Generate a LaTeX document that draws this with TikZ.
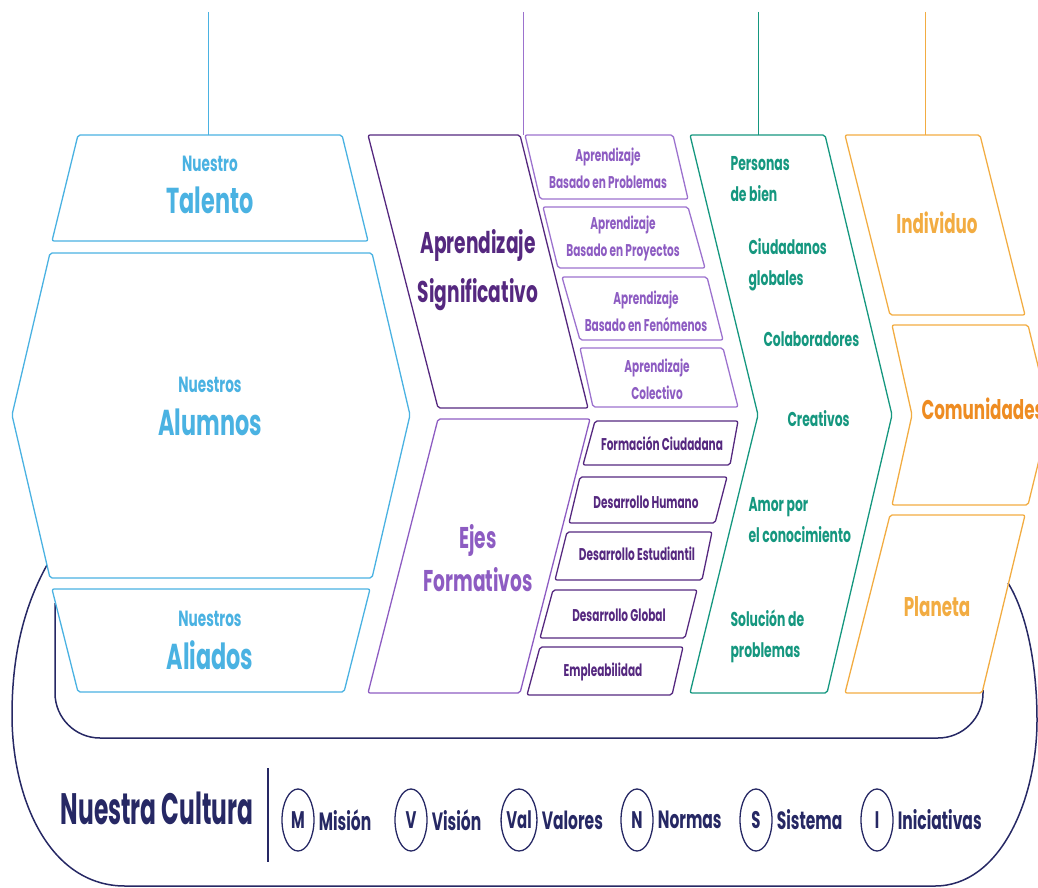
\documentclass[tikz,border=0pt]{standalone}
\usepackage{fontspec}
\usepackage{tikz}
\usetikzlibrary{shapes.geometric, positioning}
\setmainfont{Poppins}
\newfontfamily\narrowfont[FakeStretch=0.62]{Poppins}
\newfontfamily\tightfont[FakeStretch=0.53]{Poppins}
\newcommand{\cfont}[2]{\narrowfont\bfseries\fontsize{#1}{#2}\selectfont}
\definecolor{SkyBlue}{HTML}{4AB2E2}
\definecolor{DarkPurple}{HTML}{55287F}
\definecolor{LightPurple}{HTML}{8D5CC2}
\definecolor{LinePurple}{HTML}{9C72CE}
\definecolor{TealGreen}{HTML}{15977F}
\definecolor{SoftOrange}{HTML}{F2AC42}
\definecolor{DeepOrange}{HTML}{EE8C22}
\definecolor{Navy}{HTML}{262864}

\begin{document}
\begin{tikzpicture}[x=1pt, y=-1pt,
    panel/.style={line width=1.3pt, rounded corners=2pt, line join=round},
    stem/.style={line width=0.9pt},
    navyline/.style={draw=Navy, line width=1.5pt},
    bluesmall/.style={font=\cfont{22}{24}, text=SkyBlue},
    bluebig/.style={font=\cfont{36}{38}, text=SkyBlue},
    bigtitle/.style={font=\cfont{30}{49}, align=center},
    subtext/.style={font=\cfont{17}{27}, align=center},
    tealtext/.style={font=\cfont{20}{31}, text=TealGreen, align=left, anchor=west},
    orangetext/.style={font=\cfont{27}{29}},
    pill/.style={ellipse, draw=Navy, line width=1.3pt, minimum width=32pt,
                 minimum height=62pt, inner sep=0pt, text=Navy, font=\cfont{24}{26}},
    cultlabel/.style={font=\cfont{25}{27}, text=Navy, inner sep=1pt}
]
    \useasboundingbox (0,0) rectangle (1038,888);

    % Stems on top
    \coordinate (stem-blue) at (208,12);
    \coordinate (talento-top) at (208,135);
    \coordinate (stem-purple) at (523,12);
    \coordinate (aprendizaje-top) at (523,135);
    \coordinate (stem-teal) at (758,12);
    \coordinate (perfil-top) at (758,135);
    \coordinate (stem-orange) at (925,12);
    \coordinate (individuo-top) at (925,135);
    \draw[stem, SkyBlue] (stem-blue) -- (talento-top);
    \draw[stem, LinePurple] (stem-purple) -- (aprendizaje-top);
    \draw[stem, TealGreen] (stem-teal) -- (perfil-top);
    \draw[stem, SoftOrange] (stem-orange) -- (individuo-top);

    % Culture outlines
    \draw[navyline] (47,565) .. controls (22,610) and (12,660) .. (12,715)
        .. controls (12,800) and (50,886) .. (125,886) -- (935,886)
        .. controls (1000,886) and (1037,800) .. (1037,720)
        .. controls (1037,660) and (1025,610) .. (1008,583);
    \draw[navyline, rounded corners=45pt] (55,603) -- (55,738) -- (983,738) -- (983,690);

    % Column 1
    \draw[panel, draw=SkyBlue, fill=white] (78,135) -- (342,135) -- (368,241) -- (52,241) -- cycle;
    \draw[panel, draw=SkyBlue, fill=white] (50,253) -- (372,253) -- (410,415) -- (372,578)
        -- (50,578) -- (12,415) -- cycle;
    \draw[panel, draw=SkyBlue, fill=white] (52,589) -- (370,589) -- (344,692) -- (78,692) -- cycle;
    \node[bluesmall] (talento-pre) at (210,164) {Nuestro};
    \node[bluebig] (talento) at (210,200) {Talento};
    \node[bluesmall] (alumnos-pre) at (210,385) {Nuestros};
    \node[bluebig] (alumnos) at (210,422) {Alumnos};
    \node[bluesmall] (aliados-pre) at (210,619) {Nuestros};
    \node[bluebig] (aliados) at (210,655) {Aliados};

    % Column 2
    \draw[panel, draw=DarkPurple] (368,135) -- (520,135) -- (588,408) -- (438,408) -- cycle;
    \draw[panel, draw=LightPurple] (438,419) -- (590,419) -- (520,693) -- (368,693) -- cycle;
    \node[bigtitle, text=DarkPurple] (significativo) at (478,270) {Aprendizaje\\Significativo};
    \node[bigtitle, text=LightPurple, font=\cfont{30}{43}] (ejes) at (478,558) {Ejes\\Formativos};

    % Learning boxes
    \draw[panel, draw=LinePurple] (525,135) -- (673,135) -- (688,199) -- (540,199) -- cycle;
    \draw[panel, draw=LinePurple] (543,207) -- (688,207) -- (705,268) -- (558,268) -- cycle;
    \draw[panel, draw=LinePurple] (562,277) -- (707,277) -- (723,340) -- (580,340) -- cycle;
    \draw[panel, draw=LinePurple] (580,348) -- (723,348) -- (738,407) -- (593,407) -- cycle;
    \node[subtext, text=LightPurple] (problemas) at (608,168) {Aprendizaje\\Basado en Problemas};
    \node[subtext, text=LightPurple] (proyectos) at (623,238) {Aprendizaje\\Basado en Proyectos};
    \node[subtext, text=LightPurple] (fenomenos) at (646,311) {Aprendizaje\\Basado en Fenómenos};
    \node[subtext, text=LightPurple] (colectivo) at (657,379) {Aprendizaje\\Colectivo};

    % Formative axes
    \draw[panel, draw=DarkPurple] (595,421) -- (738,421) -- (730,465) -- (583,465) -- cycle;
    \draw[panel, draw=DarkPurple] (580,477) -- (727,477) -- (715,523) -- (569,523) -- cycle;
    \draw[panel, draw=DarkPurple] (567,532) -- (712,532) -- (702,580) -- (555,580) -- cycle;
    \draw[panel, draw=DarkPurple] (553,590) -- (697,590) -- (685,638) -- (540,638) -- cycle;
    \draw[panel, draw=DarkPurple] (540,647) -- (683,647) -- (672,695) -- (527,695) -- cycle;
    \node[subtext, text=DarkPurple] (ciudadana) at (662,443) {Formación Ciudadana};
    \node[subtext, text=DarkPurple] (humano) at (646,502) {Desarrollo Humano};
    \node[subtext, text=DarkPurple] (estudiantil) at (637,554) {Desarrollo Estudiantil};
    \node[subtext, text=DarkPurple] (global) at (619,615) {Desarrollo Global};
    \node[subtext, text=DarkPurple] (empleabilidad) at (603,672) {Empleabilidad};

    % Column 3
    \draw[panel, draw=TealGreen] (690,135) -- (825,135) -- (892,415) -- (827,693)
        -- (690,693) -- (758,415) -- cycle;
    \node[tealtext] (personas) at (727,179) {Personas\\de bien};
    \node[tealtext] (ciudadanos) at (745,265) {Ciudadanos\\globales};
    \node[tealtext] (colaboradores) at (760,339) {Colaboradores};
    \node[tealtext] (creativos) at (784,419) {Creativos};
    \node[tealtext] (amor) at (745,520) {Amor por\\el conocimiento};
    \node[tealtext] (solucion) at (727,636) {Solución de\\problemas};

    % Column 4
    \draw[panel, draw=SoftOrange] (845,135) -- (980,135) -- (1025,315) -- (890,315) -- cycle;
    \draw[panel, draw=SoftOrange] (892,325) -- (1028,325) -- (1050,415) -- (1028,505)
        -- (892,505) -- (912,415) -- cycle;
    \draw[panel, draw=SoftOrange] (890,515) -- (1025,515) -- (982,693) -- (845,693) -- cycle;
    \node[orangetext, text=SoftOrange] (individuo) at (937,223) {Individuo};
    \node[orangetext, text=DeepOrange, anchor=west] (comunidades) at (918,409) {Comunidades};
    \node[orangetext, text=SoftOrange] (planeta) at (937,607) {Planeta};

    % Culture row
    \node[font=\tightfont\bfseries\fontsize{44}{46}\selectfont, text=Navy] (cultura) at (157,808) {Nuestra Cultura};
    \coordinate (sep-top) at (268,768);
    \coordinate (sep-bottom) at (268,862);
    \draw[Navy, line width=2pt] (sep-top) -- (sep-bottom);

    \node[pill] (mision) at (298,820) {M};
    \node[pill] (vision) at (411,820) {V};
    \node[pill] (valores) at (519,820) {Val};
    \node[pill] (normas) at (637,820) {N};
    \node[pill] (sistema) at (756,820) {S};
    \node[pill] (iniciativas) at (877,820) {I};
    \node[cultlabel, right=3pt of mision] (mision-lbl) {Misión};
    \node[cultlabel, right=3pt of vision] (vision-lbl) {Visión};
    \node[cultlabel, right=3pt of valores] (valores-lbl) {Valores};
    \node[cultlabel, right=3pt of normas] (normas-lbl) {Normas};
    \node[cultlabel, right=3pt of sistema] (sistema-lbl) {Sistema};
    \node[cultlabel, right=3pt of iniciativas] (iniciativas-lbl) {Iniciativas};
\end{tikzpicture}
\end{document}
